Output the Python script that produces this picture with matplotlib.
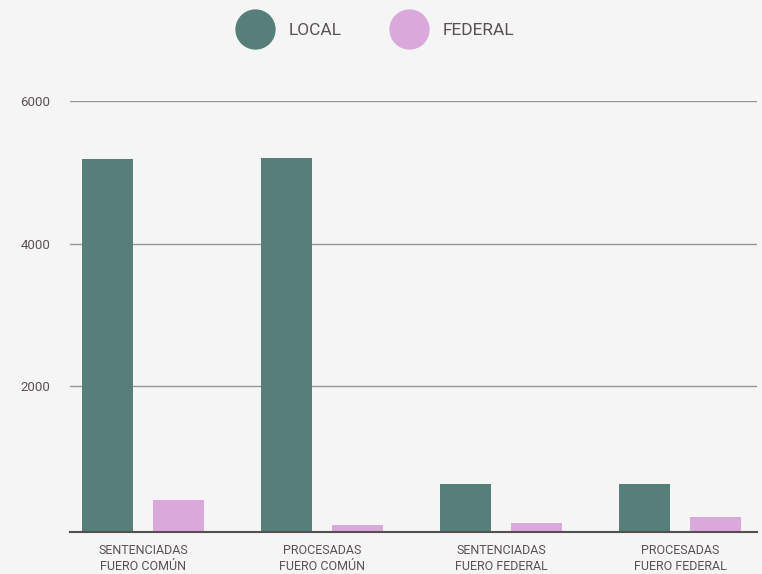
import numpy as np
import matplotlib.pyplot as plt
from matplotlib.lines import Line2D

categorias = ['SENTENCIADAS\nFUERO COMÚN', 'PROCESADAS\nFUERO COMÚN',
              'SENTENCIADAS\nFUERO FEDERAL', 'PROCESADAS\nFUERO FEDERAL']
local = [5182, 5196, 630, 630]
federal = [406, 56, 84, 168]
yticks = [2000, 4000, 6000]

c_local = '#557f78'
c_federal = '#dba8dc'
bg = '#f4f5f4'
txt = '#5a5252'

plt.rcParams['font.family'] = ['Roboto', 'DejaVu Sans']

fig = plt.figure(figsize=(7.62, 5.74), dpi=100, facecolor=bg)
ax = fig.add_axes([70 / 762, 42 / 574, 687 / 762, 431 / 574], facecolor=bg)

# the bars start at the axis floor, slightly below zero
ymin = -45
x = np.arange(len(categorias))
w = 0.285
off = 0.198
ax.bar(x - off, np.array(local) - ymin, w, bottom=ymin, color=c_local, zorder=3)
ax.bar(x + off, np.array(federal) - ymin, w, bottom=ymin, color=c_federal, zorder=3)

ax.set_xlim(-0.408, 3.43)
ax.set_ylim(ymin, 6000)
ax.set_yticks(yticks)
ax.set_yticklabels([str(v) for v in yticks], fontsize=9.5, color=txt)
ax.set_xticks(x)
ax.set_xticklabels(categorias, fontsize=9, color=txt, linespacing=1.3)
ax.tick_params(axis='both', length=0)
ax.tick_params(axis='y', pad=14)
ax.tick_params(axis='x', pad=9)

ax.grid(axis='y', color='#999595', linewidth=1, zorder=0)
for s in ['top', 'right', 'left']:
    ax.spines[s].set_visible(False)
ax.spines['bottom'].set_color('#555050')
ax.spines['bottom'].set_linewidth(1.5)
ax.spines['bottom'].set_zorder(4)

handles = [Line2D([], [], marker='o', linestyle='none', markersize=29,
                  markerfacecolor=c_local, markeredgecolor='none'),
           Line2D([], [], marker='o', linestyle='none', markersize=29,
                  markerfacecolor=c_federal, markeredgecolor='none')]
fig.legend(handles, ['LOCAL', 'FEDERAL'], loc='center', bbox_to_anchor=(378 / 762, 1 - 30 / 574),
           ncol=2, frameon=False, fontsize=12.5, labelcolor=txt,
           handletextpad=1.2, columnspacing=3.1, handlelength=1.5)

fig.savefig('out.png', dpi=100, facecolor=bg)
